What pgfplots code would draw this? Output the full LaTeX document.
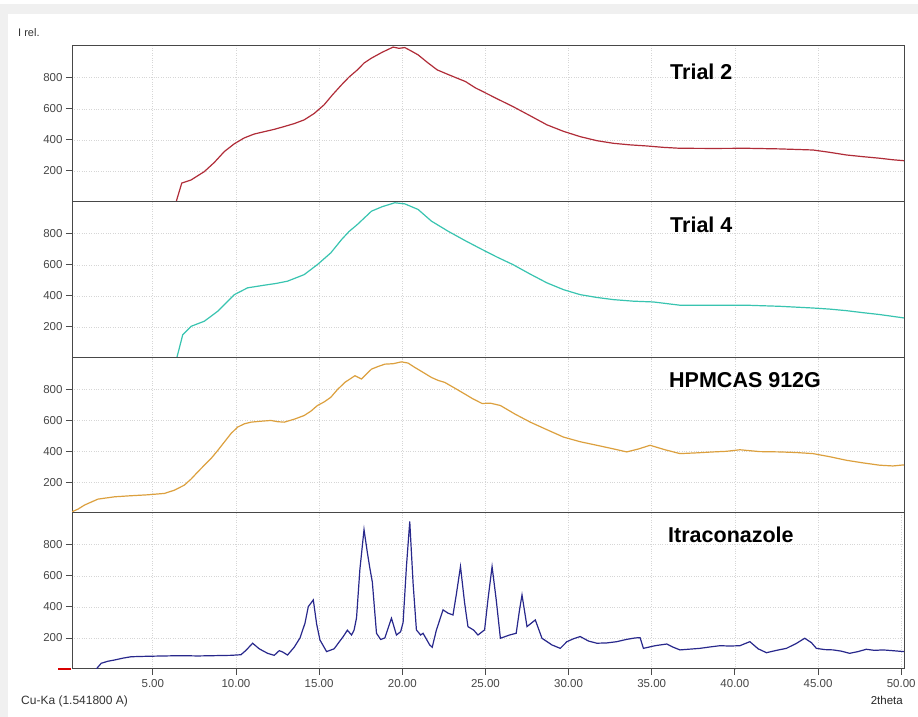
\documentclass[border=0pt]{standalone}
\usepackage{fontspec}
\setmainfont{Liberation Sans}
\usepackage{pgfplots}
\pgfplotsset{compat=1.18}
\definecolor{ctwo}{RGB}{176,44,56}
\definecolor{cfour}{RGB}{56,196,176}
\definecolor{chpm}{RGB}{220,160,62}
\definecolor{citr}{RGB}{40,40,140}
\definecolor{bggray}{RGB}{240,240,240}
\pgfplotsset{
  panel/.style={
    scale only axis, width=832pt, height=156pt,
    xmin=0.14, xmax=50.17, ymin=0, ymax=1005,
    ytick={200,400,600,800}, yticklabels={200,400,600,800},
    xmajorgrids, ymajorgrids,
    grid style={dotted, black!16, line width=0.7pt},
    axis line style={draw=black!72, line width=1pt},
    ytick pos=left, tick align=outside, major tick length=6pt,
    ytick style={draw=black!70, line width=0.9pt},
    tick label style={font=\fontsize{11.5}{13}\selectfont, text=black!72},
    clip=true,
  },
  upper/.style={panel, xtick={5,10,...,45}, xticklabels={}, xtick style={draw=none}},
}
\begin{document}
\begin{tikzpicture}[x=1pt,y=1pt]
\path[use as bounding box] (0,0) rectangle (918,717);
\fill[white] (0,0) rectangle (918,717);
\fill[bggray] (0,703) rectangle (918,713);
\fill[bggray] (0,0) rectangle (8,713);

% Panel 1: Trial 2
\begin{axis}[upper, at={(72pt,515pt)}, anchor=south west]
\addplot[ctwo, line width=1.2pt] coordinates {
(6.40,0)(6.74,122)(7.3,142)(8.1,196)(8.7,255)(9.3,325)(9.9,375)(10.5,413)(11.1,438)(11.7,453)(12.3,468)(12.9,486)(13.5,505)(14.1,529)(14.7,570)(15.3,626)(15.8,690)(16.35,755)(16.8,805)(17.3,851)(17.7,895)(18.15,927)(18.8,965)(19.45,998)(19.8,990)(20.15,995)(20.5,975)(20.95,948)(21.5,900)(22.1,851)(22.9,815)(23.8,776)(24.4,735)(24.85,711)(25.7,665)(26.65,615)(27.7,555)(28.7,497)(29.7,455)(30.7,421)(31.7,395)(32.7,378)(33.7,368)(34.7,361)(35.7,352)(36.7,346)(38.7,345)(40.7,346)(42.7,342)(44.7,335)(45.7,320)(46.7,303)(47.7,292)(48.7,282)(49.5,272)(50.17,266)
};
\end{axis}

% Panel 2: Trial 4
\begin{axis}[upper, at={(72pt,359pt)}, anchor=south west]
\addplot[cfour, line width=1.2pt] coordinates {
(6.44,0)(6.8,150)(7.3,204)(8.1,237)(8.9,301)(9.9,408)(10.7,452)(11.7,469)(12.4,480)(13.1,495)(14.1,537)(14.9,602)(15.7,677)(16.35,763)(16.8,815)(17.3,860)(18.15,946)(18.8,975)(19.55,1000)(20.15,993)(20.95,957)(21.75,882)(22.75,817)(23.8,755)(24.8,699)(25.7,650)(26.65,602)(27.7,540)(28.7,484)(29.7,440)(30.7,408)(31.7,390)(32.7,376)(33.9,366)(35.1,361)(36.7,340)(38.7,340)(40.7,340)(42.7,333)(44.7,322)(45.7,315)(46.7,305)(47.7,292)(48.7,280)(50.17,258)
};
\end{axis}

% Panel 3: HPMCAS
\begin{axis}[upper, at={(72pt,204pt)}, anchor=south west, height=155pt]
\addplot[chpm, line width=1.2pt] coordinates {
(0.14,8)(0.5,25)(0.9,52)(1.7,90)(2.7,105)(3.7,112)(4.7,118)(5.7,127)(6.3,148)(6.9,181)(7.3,220)(7.7,266)(8.1,310)(8.5,353)(8.9,405)(9.3,460)(9.7,515)(10.1,557)(10.5,578)(10.9,589)(11.5,595)(12.1,600)(12.5,592)(12.9,589)(13.5,608)(14.1,632)(14.5,660)(14.9,697)(15.3,720)(15.7,750)(16.1,800)(16.55,847)(17.15,890)(17.55,869)(18.15,933)(18.55,950)(18.95,965)(19.45,968)(19.95,980)(20.35,972)(20.75,944)(21.25,912)(21.75,879)(22.15,860)(22.55,847)(23.15,810)(23.75,772)(24.25,740)(24.8,710)(25.3,712)(25.9,697)(26.8,640)(27.7,589)(28.7,540)(29.7,492)(30.7,462)(31.7,439)(32.6,418)(33.5,396)(34.2,415)(34.9,439)(35.8,410)(36.7,385)(37.7,390)(38.7,396)(39.5,400)(40.3,410)(41.5,398)(42.7,396)(43.7,392)(44.7,385)(45.7,365)(46.7,342)(47.7,325)(48.7,310)(49.5,305)(50.17,312)
};
\end{axis}

% Panel 4: Itraconazole
\begin{axis}[panel, at={(72pt,48pt)}, anchor=south west,
  xtick={5,10,...,50},
  xticklabels={5.00,10.00,15.00,20.00,25.00,30.00,35.00,40.00,45.00,50.00},
  xtick pos=bottom, xtick style={draw=black!70, line width=0.9pt}, xticklabel style={yshift=-1pt}]
\addplot[citr, line width=1.2pt] coordinates {
(1.6,0)(1.9,37)(2.3,50)(2.7,58)(3.2,70)(3.7,79)(4.7,82)(5.7,84)(6.7,86)(7.7,84)(8.7,86)(9.7,88)(10.3,92)(10.6,120)(11.0,166)(11.4,130)(11.9,101)(12.3,88)(12.6,118)(12.8,110)(13.1,90)(13.5,140)(13.85,200)(14.15,295)(14.35,402)(14.65,445)(14.85,290)(15.05,187)(15.45,112)(15.9,130)(16.45,209)(16.7,250)(16.95,219)(17.1,250)(17.25,330)(17.45,640)(17.7,898)(17.9,750)(18.05,650)(18.2,560)(18.45,230)(18.7,190)(18.95,200)(19.35,327)(19.65,219)(19.9,240)(20.05,300)(20.25,660)(20.45,950)(20.65,553)(20.85,252)(21.1,219)(21.25,230)(21.65,155)(21.8,140)(22.05,250)(22.45,381)(22.75,360)(23.05,348)(23.25,480)(23.5,660)(23.75,424)(23.95,273)(24.3,250)(24.55,219)(24.95,252)(25.15,445)(25.4,660)(25.65,445)(25.9,198)(26.45,219)(26.85,230)(27.05,380)(27.2,477)(27.5,273)(28.0,316)(28.4,198)(29.0,155)(29.5,133)(29.9,176)(30.3,195)(30.7,209)(31.2,180)(31.7,166)(32.3,168)(32.9,176)(33.5,191)(34.0,200)(34.3,202)(34.5,133)(35.2,150)(35.9,161)(36.3,140)(36.7,123)(37.3,128)(37.9,133)(38.5,142)(39.1,150)(39.7,148)(40.3,150)(40.9,176)(41.4,130)(41.9,105)(42.5,120)(43.1,133)(43.7,165)(44.2,198)(44.6,170)(44.9,133)(45.4,125)(45.9,123)(46.4,115)(46.9,101)(47.4,112)(47.9,127)(48.4,120)(48.9,123)(49.5,118)(50.17,112)
};
\end{axis}

\draw[red!85!black, line width=2.5pt] (58,48) -- (71,48);

\node[anchor=base west, inner sep=0pt, font=\fontsize{21.5}{24}\selectfont\bfseries] at (670,637) {Trial 2};
\node[anchor=base west, inner sep=0pt, font=\fontsize{21.5}{24}\selectfont\bfseries] at (670,484) {Trial 4};
\node[anchor=base west, inner sep=0pt, font=\fontsize{21.5}{24}\selectfont\bfseries] at (669,329) {HPMCAS 912G};
\node[anchor=base west, inner sep=0pt, font=\fontsize{21.5}{24}\selectfont\bfseries] at (668,174) {Itraconazole};

\node[anchor=base west, inner sep=0pt, font=\fontsize{11}{13}\selectfont, text=black!80] at (18,680) {I rel.};
\node[anchor=base west, inner sep=0pt, font=\fontsize{12}{14}\selectfont, text=black!80] at (21,12) {Cu-Ka (1.541800 A)};
\node[anchor=base east, inner sep=0pt, font=\fontsize{11.5}{13}\selectfont, text=black!85] at (903,12) {2theta};
\end{tikzpicture}
\end{document}
